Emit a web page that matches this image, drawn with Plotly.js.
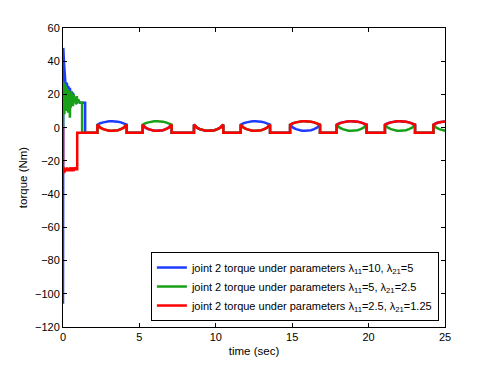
<!DOCTYPE html>
<html>
<head>
<meta charset="utf-8">
<script src="https://cdn.plot.ly/plotly-3.0.1.min.js"></script>
<style>
  html, body { margin: 0; padding: 0; background: #fff; }
  #chart { width: 491px; height: 369px; }
</style>
</head>
<body>
<div id="chart"></div>
<script>
// transient part (t < ~1.5 s)
var blueT0 = [0, 0, 0.02, 0.06, 0.1, 0.15, 0.2, 0.25, 0.3, 0.35, 0.4, 0.45, 0.5, 0.55, 0.6, 0.65, 0.7, 0.75, 0.8, 0.9, 1.0, 1.1, 1.2, 1.3, 1.45, 1.45];
var blueY0 = [0, -106, 48, 40, 31, 28, 26, 27, 24, 25, 22, 24, 20, 22, 19, 21, 18, 17, 16, 15, 16, 15, 15, 15, 15, -3];

var greenT0 = [0, 0, 0.03, 0.06, 0.09, 0.12, 0.15, 0.18, 0.21, 0.24, 0.27, 0.30, 0.33, 0.36, 0.39, 0.42, 0.45, 0.48, 0.51, 0.54, 0.57, 0.6, 0.65, 0.7, 0.75, 0.8, 0.85, 0.9, 0.95, 1.0, 1.1, 1.25, 1.25];
var greenY0 = [0, 28, 12, 27, 8, 26, 14, 25, 10, 24, 15, 22, 9, 23, 13, 21, 6, 20, 12, 22, 14, 19, 13, 20, 16, 18, 14, 19, 15, 17, 15, 15, -3];

var redT0 = [0, 0, 0.05, 0.1, 0.15, 0.2, 0.25, 0.3, 0.35, 0.4, 0.45, 0.5, 0.55, 0.6, 0.65, 0.7, 0.75, 0.8, 0.85, 0.93, 0.93];
var redY0 = [0, -28, -24, -27, -25, -26, -24, -26, -25, -26, -24, -25, -26, -24, -25, -26, -24, -25, -25, -25, -3];

// periodic part: "high" windows, start / end times (sec)
var segStart = [2.25, 5.21, 8.57, 11.63, 14.86, 17.91, 21.07, 24.24];
var segEnd   = [4.17, 7.11, 10.49, 13.55, 16.82, 19.87, 23.04, 26.16];
var lowLevel = -3;

// arc shapes inside a window (fraction of window -> torque)
var arcFrac = [0, 0.04, 0.1, 0.2, 0.3, 0.4, 0.5, 0.6, 0.7, 0.8, 0.9, 0.96, 1];
var arcUp   = [1.8, 2.2, 2.7, 3.2, 3.6, 3.85, 3.9, 3.85, 3.6, 3.2, 2.7, 2.2, 1.8];
var arcDip  = [1.8, 1.2, 0.0, -0.9, -1.5, -1.8, -1.9, -1.8, -1.5, -0.9, 0.0, 1.2, 1.8];

// which arc each series follows in each window (1 = up, -1 = dip)
var blueArcs  = [1, -1, -1, 1, -1, 1, 1, 1];
var greenArcs = [-1, 1, -1, -1, 1, -1, -1, -1];
var redArcs   = [-1, -1, -1, -1, 1, 1, 1, 1];

var names = [
  'joint 2 torque under parameters λ<sub>11</sub>=10, λ<sub>21</sub>=5',
  'joint 2 torque under parameters λ<sub>11</sub>=5, λ<sub>21</sub>=2.5',
  'joint 2 torque under parameters λ<sub>11</sub>=2.5, λ<sub>21</sub>=1.25'
];

function build(t0, y0, arcs) {
  var x = t0.slice(), y = y0.slice();
  for (var i = 0; i < segStart.length; i++) {
    var s = segStart[i], e = segEnd[i];
    var shape = arcs[i] > 0 ? arcUp : arcDip;
    x.push(s); y.push(lowLevel);
    for (var k = 0; k < arcFrac.length; k++) {
      x.push(s + arcFrac[k] * (e - s));
      y.push(shape[k]);
    }
    x.push(e); y.push(lowLevel);
  }
  return {x: x, y: y};
}

var b = build(blueT0, blueY0, blueArcs);
var g = build(greenT0, greenY0, greenArcs);
var r = build(redT0, redY0, redArcs);

var data = [
  {x: b.x, y: b.y, type: 'scatter', mode: 'lines', name: names[0], line: {color: 'rgb(30,60,255)', width: 2.5}},
  {x: g.x, y: g.y, type: 'scatter', mode: 'lines', name: names[1], line: {color: 'rgb(25,160,25)', width: 2.5}},
  {x: r.x, y: r.y, type: 'scatter', mode: 'lines', name: names[2], line: {color: 'rgb(255,0,0)', width: 2.5}}
];

var axisStyle = {
  showline: true, linecolor: '#000', linewidth: 1, mirror: 'ticks',
  ticks: 'inside', ticklen: 4, tickcolor: '#000',
  showgrid: false, zeroline: false,
  tickfont: {family: 'Liberation Sans, Arial, sans-serif', size: 11, color: '#000'}
};

var layout = {
  width: 491, height: 369,
  margin: {l: 63, r: 46, t: 28, b: 42},
  paper_bgcolor: '#fff', plot_bgcolor: '#fff',
  font: {family: 'Liberation Sans, Arial, sans-serif', size: 11, color: '#000'},
  showlegend: true,
  xaxis: Object.assign({}, axisStyle, {
    range: [0, 25], tickvals: [0, 5, 10, 15, 20, 25],
    title: {text: 'time (sec)', standoff: 4, font: {size: 11.5}}
  }),
  yaxis: Object.assign({}, axisStyle, {
    range: [-120, 60], tickvals: [-120, -100, -80, -60, -40, -20, 0, 20, 40, 60],
    title: {text: 'torque (Nm)', standoff: 4, font: {size: 11.5}}
  }),
  legend: {
    x: 0.984, y: 0.02, xanchor: 'right', yanchor: 'bottom',
    bgcolor: '#fff', bordercolor: '#000', borderwidth: 1,
    itemwidth: 30,
    font: {size: 11}
  }
};

Plotly.newPlot('chart', data, layout, {staticPlot: true});
</script>
</body>
</html>
